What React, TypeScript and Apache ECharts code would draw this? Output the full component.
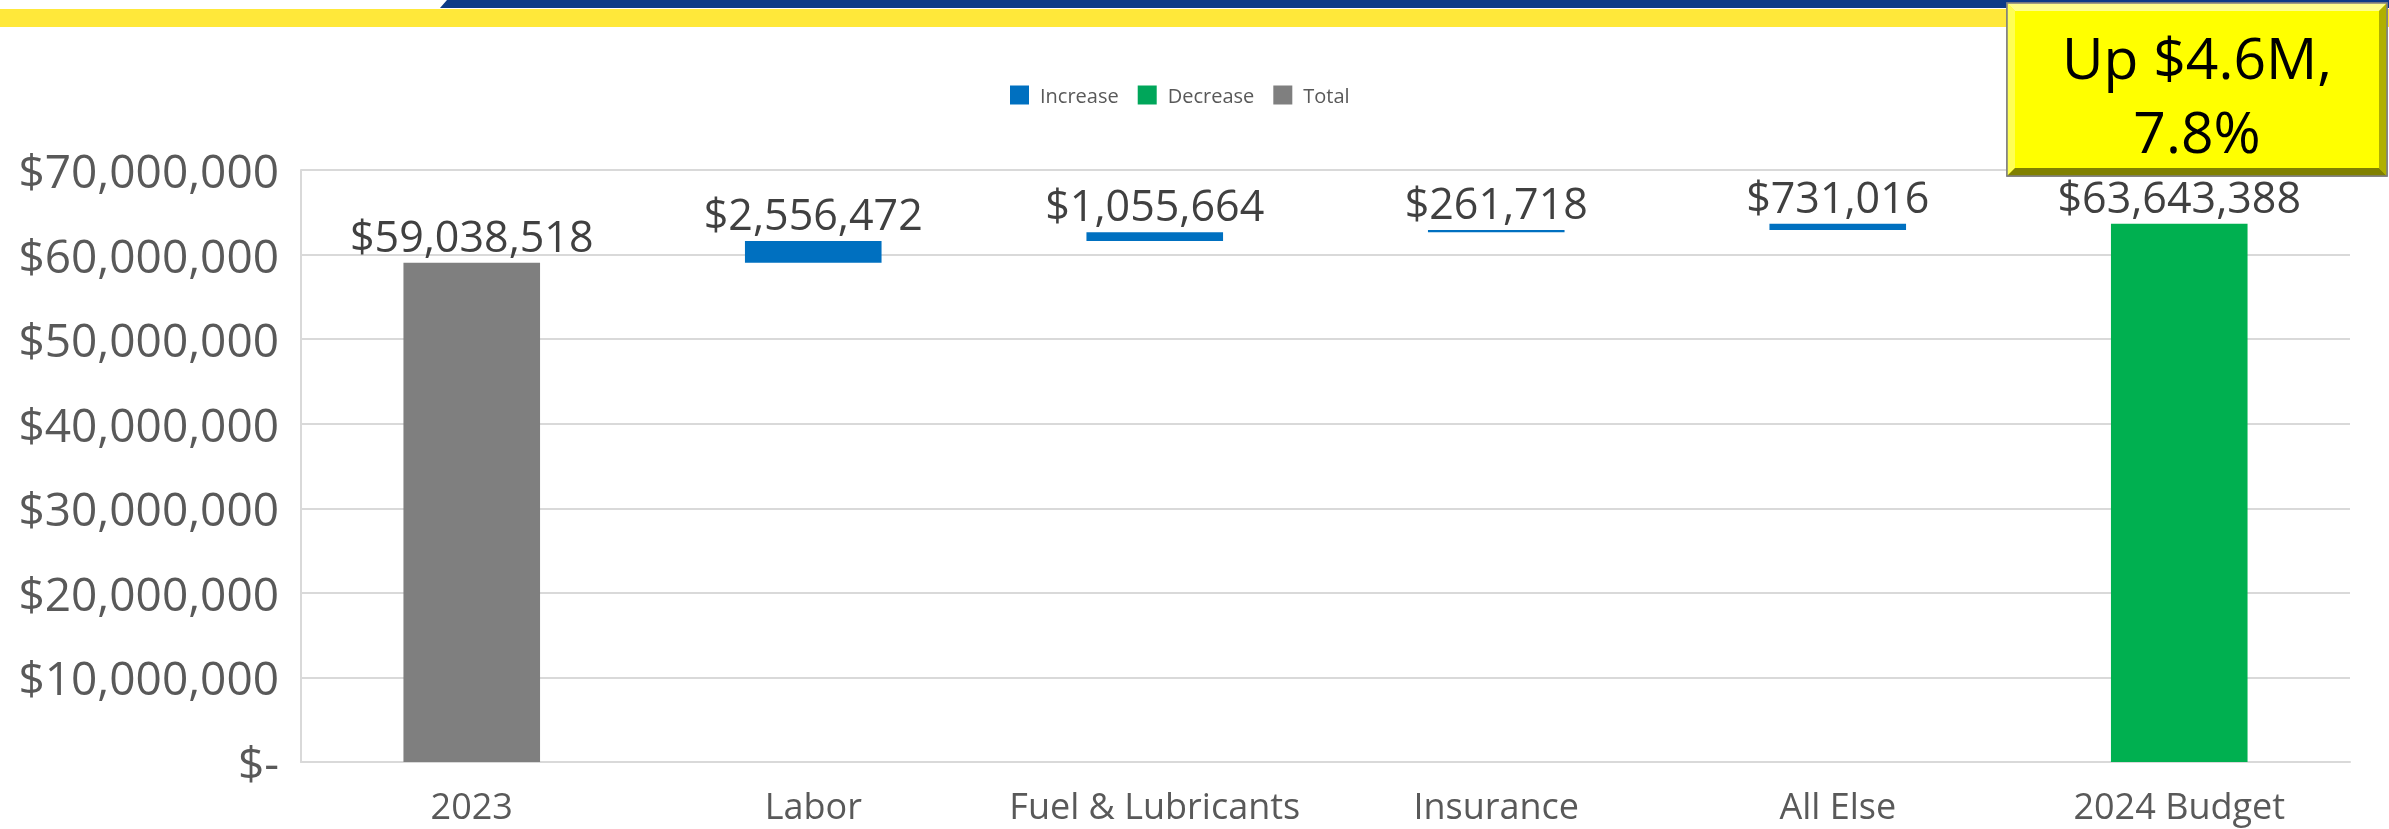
import React, { useEffect, useRef } from "react";
import * as echarts from "echarts";

const categories = ["2023", "Labor", "Fuel & Lubricants", "Insurance", "All Else", "2024 Budget"];
const startTotal = 59038518;
const increases = [2556472, 1055664, 261718, 731016];
const endTotal = 63643388;
const legendNames = ["Increase", "Decrease", "Total"];
const calloutLines = ["Up $4.6M,", "7.8%"];

const FONT = "Open Sans";
const fmtMoney = (v: number) => (v === 0 ? "$-" : "$" + Math.round(v).toLocaleString("en-US"));

export default function App() {
  const ref = useRef<HTMLDivElement>(null);
  useEffect(() => {
    if (!ref.current) return;
    const chart = echarts.init(ref.current, undefined, { renderer: "svg" });

    // cumulative invisible bases for the floating bars
    const baseData: (number | string)[] = [0];
    let run = startTotal;
    increases.forEach((inc) => {
      baseData.push(run);
      run += inc;
    });
    baseData.push(0);
    const incData: (number | string)[] = ["-", ...increases, "-"];
    const totalData: any[] = [startTotal, "-", "-", "-", "-", { value: endTotal, itemStyle: { color: "#00B050" } }];

    const x0 = 2007, y0 = 3, x1 = 2387, y1 = 176, b = 8;
    const cx = (x0 + x1) / 2;

    const dataLabel = {
      show: true,
      position: "top",
      distance: 6,
      fontSize: 43,
      lineHeight: 43,
      color: "#404040",
      fontFamily: FONT,
      formatter: (p: any) => fmtMoney(p.value),
    };

    chart.setOption({
      animation: false,
      textStyle: { fontFamily: FONT },
      grid: { left: 301, right: 39, top: 170, bottom: 67, containLabel: false },
      legend: {
        data: legendNames,
        left: 1005,
        top: 80,
        itemWidth: 19,
        itemHeight: 19,
        itemGap: 19,
        icon: "rect",
        textStyle: { fontSize: 20, color: "#595959", fontFamily: FONT, padding: [0, 0, 0, 6] },
        selectedMode: false,
      },
      xAxis: {
        type: "category",
        data: categories,
        axisLine: { show: true, lineStyle: { color: "#D9D9D9", width: 2 } },
        axisTick: { show: false },
        axisLabel: { fontSize: 36, lineHeight: 36, color: "#595959", margin: 25, fontFamily: FONT, interval: 0 },
      },
      yAxis: {
        type: "value",
        min: 0,
        max: 70000000,
        interval: 10000000,
        axisLine: { show: true, lineStyle: { color: "#D9D9D9", width: 2 } },
        axisTick: { show: false },
        splitLine: { show: true, lineStyle: { color: "#D9D9D9", width: 2 } },
        axisLabel: { fontSize: 46, color: "#595959", margin: 22, fontFamily: FONT, formatter: (v: number) => fmtMoney(v) },
      },
      series: [
        {
          name: "base",
          type: "bar",
          stack: "wf",
          data: baseData,
          barWidth: "40%",
          itemStyle: { color: "rgba(0,0,0,0)" },
          silent: true,
          label: { show: false },
        },
        {
          name: "Increase",
          type: "bar",
          stack: "wf",
          data: incData,
          barWidth: "40%",
          itemStyle: { color: "#0070C0" },
          label: dataLabel,
        },
        {
          name: "Decrease",
          type: "bar",
          stack: "wf",
          data: [],
          barWidth: "40%",
          itemStyle: { color: "#00A65A" },
        },
        {
          name: "Total",
          type: "bar",
          stack: "wf",
          data: totalData,
          barWidth: "40%",
          itemStyle: { color: "#7F7F7F" },
          label: dataLabel,
        },
      ],
      graphic: [
        { type: "rect", z: 50, shape: { x: 0, y: 9, width: 2389, height: 18 }, style: { fill: "#FFE83A" } },
        { type: "polygon", z: 50, shape: { points: [[440, 8], [447, 0], [2389, 0], [2389, 8]] }, style: { fill: "#0D3B87" } },
        { type: "rect", z: 100, shape: { x: x0, y: y0, width: x1 - x0, height: y1 - y0 }, style: { fill: "#FFFF00", stroke: "#7F7F7F", lineWidth: 1.5 } },
        { type: "polygon", z: 101, shape: { points: [[x0, y0], [x1, y0], [x1 - b, y0 + b], [x0 + b, y0 + b]] }, style: { fill: "#FFFF8C" } },
        { type: "polygon", z: 101, shape: { points: [[x0, y0], [x0 + b, y0 + b], [x0 + b, y1 - b], [x0, y1]] }, style: { fill: "#FFFF55" } },
        { type: "polygon", z: 101, shape: { points: [[x1, y0], [x1, y1], [x1 - b, y1 - b], [x1 - b, y0 + b]] }, style: { fill: "#B0B000" } },
        { type: "polygon", z: 101, shape: { points: [[x0, y1], [x1, y1], [x1 - b, y1 - b], [x0 + b, y1 - b]] }, style: { fill: "#808000" } },
        { type: "rect", z: 102, shape: { x: x0, y: y0, width: x1 - x0, height: y1 - y0 }, style: { fill: "none", stroke: "#7F7F7F", lineWidth: 1.5 } },
        {
          type: "text", z: 103, x: cx, y: 57,
          style: { text: calloutLines[0], font: `57px "${FONT}"`, fill: "#000000", textAlign: "center", textVerticalAlign: "middle" },
        },
        {
          type: "text", z: 103, x: cx, y: 131,
          style: { text: calloutLines[1], font: `57px "${FONT}"`, fill: "#000000", textAlign: "center", textVerticalAlign: "middle" },
        },
      ],
    });
    return () => chart.dispose();
  }, []);
  return <div ref={ref} style={{ position: "fixed", left: 0, top: 0, width: 2389, height: 829 }} />;
}
